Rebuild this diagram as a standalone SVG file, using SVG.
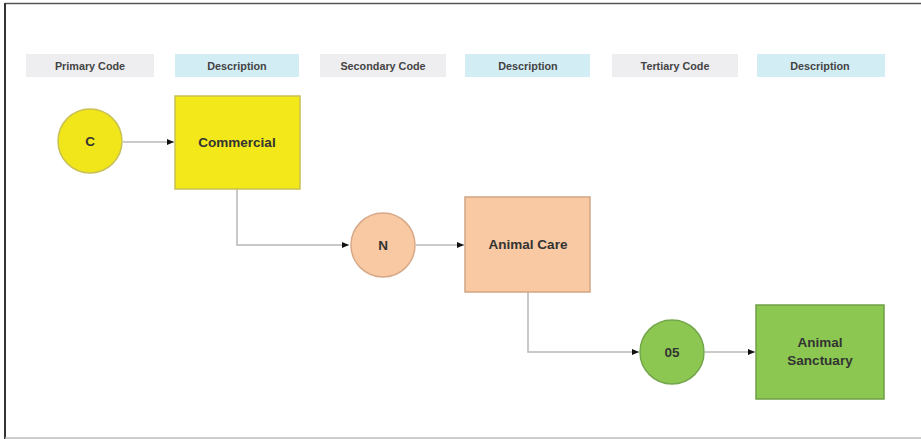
<svg xmlns="http://www.w3.org/2000/svg" width="921" height="439" viewBox="0 0 921 439">
<style>
.hdr{font-family:"Liberation Sans",Arial,sans-serif;font-size:10.8px;font-weight:bold;fill:#444;text-anchor:middle}
.lbl{font-family:"Liberation Sans",Arial,sans-serif;font-size:13.5px;font-weight:bold;fill:#333;text-anchor:middle}
.g{fill:#eeeef1}
.b{fill:#d3edf4}
.conn{fill:none;stroke:#b8b8b8;stroke-width:1.5}
</style>
<defs>
<marker id="arr" markerWidth="8" markerHeight="8" refX="7" refY="4" orient="auto" markerUnits="userSpaceOnUse">
<path d="M0,1 L7,4 L0,7 Z" fill="#111"/>
</marker>
</defs>
<rect x="0" y="0" width="921" height="439" fill="#fff"/>
<line x1="5" y1="3.5" x2="921" y2="3.5" stroke="#555" stroke-width="1.5"/>
<line x1="5" y1="3" x2="5" y2="439" stroke="#333" stroke-width="2"/>
<line x1="5" y1="438" x2="921" y2="438" stroke="#bbb" stroke-width="1.5"/>
<g id="headers">
<rect class="g" x="26" y="54" width="128" height="23"/>
<text class="hdr" x="90" y="69.5">Primary Code</text>
<rect class="b" x="175" y="54" width="124" height="23"/>
<text class="hdr" x="237" y="69.5">Description</text>
<rect class="g" x="320" y="54" width="126" height="23"/>
<text class="hdr" x="383" y="69.5">Secondary Code</text>
<rect class="b" x="465" y="54" width="125" height="23"/>
<text class="hdr" x="528" y="69.5">Description</text>
<rect class="g" x="612" y="54" width="126" height="23"/>
<text class="hdr" x="675" y="69.5">Tertiary Code</text>
<rect class="b" x="757" y="54" width="128" height="23"/>
<text class="hdr" x="820" y="69.5">Description</text>
</g>
<g id="connectors">
<path class="conn" d="M123,142 H174" marker-end="url(#arr)"/>
<path class="conn" d="M237,189 V245 H349" marker-end="url(#arr)"/>
<path class="conn" d="M416,245 H464" marker-end="url(#arr)"/>
<path class="conn" d="M528,292 V352 H639" marker-end="url(#arr)"/>
<path class="conn" d="M705,352 H755" marker-end="url(#arr)"/>
</g>
<g id="node-c">
<circle cx="90" cy="141" r="32" fill="#f0e619" stroke="#c9c157" stroke-width="1.5"/>
<text class="lbl" x="90" y="146">C</text>
</g>
<g id="node-commercial">
<rect x="175" y="96" width="125" height="93" fill="#f2e81a" stroke="#c8c050" stroke-width="1.5"/>
<text class="lbl" x="237" y="147">Commercial</text>
</g>
<g id="node-n">
<circle cx="383" cy="245" r="32" fill="#f8c9a2" stroke="#d7a98a" stroke-width="1.5"/>
<text class="lbl" x="383" y="250">N</text>
</g>
<g id="node-animal-care">
<rect x="465" y="197" width="125" height="95" fill="#f8c9a2" stroke="#d2a584" stroke-width="1.5"/>
<text class="lbl" x="528" y="249">Animal Care</text>
</g>
<g id="node-05">
<circle cx="672" cy="352" r="32" fill="#8cc851" stroke="#74a64c" stroke-width="1.5"/>
<text class="lbl" x="672" y="357">05</text>
</g>
<g id="node-sanctuary">
<rect x="756" y="305" width="128" height="94" fill="#8cc851" stroke="#6f9e46" stroke-width="1.5"/>
<text class="lbl" x="820" y="347">Animal</text>
<text class="lbl" x="820" y="365">Sanctuary</text>
</g>
</svg>
